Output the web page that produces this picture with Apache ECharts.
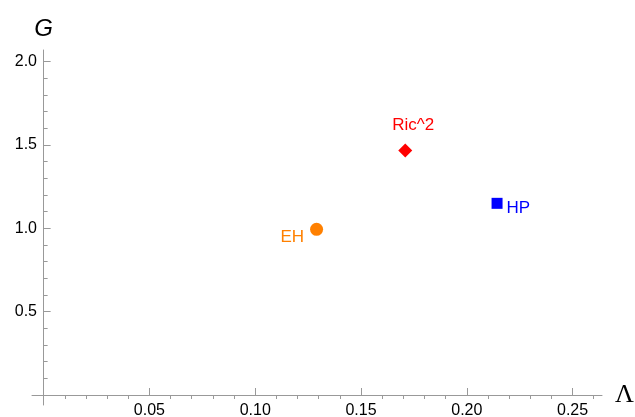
<!DOCTYPE html>
<html>
<head>
<meta charset="utf-8">
<script src="https://cdn.jsdelivr.net/npm/echarts@6/dist/echarts.min.js"></script>
<style>
html,body{margin:0;padding:0;background:#fff;}
#chart{width:635px;height:417px;}
</style>
</head>
<body>
<div id="chart"></div>
<script>
// Data
const seriesNames = ['EH', 'Ric^2', 'HP'];
const ehPoint = [0.129, 0.994];
const ricPoint = [0.1709, 1.467];
const hpPoint = [0.2143, 1.150];
const xMajorTicks = [0.05, 0.10, 0.15, 0.20, 0.25];
const xMinorTicks = [0.01,0.02,0.03,0.04,0.06,0.07,0.08,0.09,0.11,0.12,0.13,0.14,0.16,0.17,0.18,0.19,0.21,0.22,0.23,0.24,0.26];
const yMajorTicks = [0.5, 1.0, 1.5, 2.0];
const yMinorTicks = [0.1,0.2,0.3,0.4,0.6,0.7,0.8,0.9,1.1,1.2,1.3,1.4,1.6,1.7,1.8,1.9];

const axisColor = '#999';
const labelFont = {fontFamily: 'Liberation Sans, Arial, sans-serif', fontSize: 16, color: '#000'};
const X_MIN = -0.0055, X_MAX = 0.2639, Y_MIN = -0.06, Y_MAX = 2.07;

const chart = echarts.init(document.getElementById('chart'));
chart.setOption({
  animation: false,
  grid: {left: 32, right: 33, top: 50, bottom: 12, containLabel: false, outerBoundsMode: 'none'},
  xAxis: [
    {
      type: 'value', min: X_MIN, max: X_MAX,
      name: 'Λ', nameLocation: 'end', nameGap: 13,
      nameTextStyle: {fontFamily: 'Liberation Serif, Times New Roman, serif', fontSize: 26, color: '#000', verticalAlign: 'middle'},
      axisLine: {show: true, onZero: true, lineStyle: {color: axisColor, width: 1}},
      axisTick: {show: true, inside: true, length: 7, customValues: xMajorTicks, lineStyle: {color: axisColor}},
      axisLabel: Object.assign({show: true, margin: -2, customValues: xMajorTicks, formatter: v => v.toFixed(2)}, labelFont),
      splitLine: {show: false}
    },
    {
      type: 'value', min: X_MIN, max: X_MAX,
      axisLine: {show: false, onZero: true, onZeroAxisIndex: 0},
      axisTick: {show: true, inside: true, length: 4, customValues: xMinorTicks, lineStyle: {color: axisColor}},
      axisLabel: {show: false},
      splitLine: {show: false}
    }
  ],
  yAxis: [
    {
      type: 'value', min: Y_MIN, max: Y_MAX,
      name: 'G', nameLocation: 'end', nameGap: 9,
      nameTextStyle: {fontFamily: 'Liberation Sans, Arial, sans-serif', fontStyle: 'italic', fontSize: 24, color: '#000', align: 'center'},
      axisLine: {show: true, onZero: true, lineStyle: {color: axisColor, width: 1}},
      axisTick: {show: true, inside: true, length: 7, customValues: yMajorTicks, lineStyle: {color: axisColor}},
      axisLabel: Object.assign({show: true, margin: -5, customValues: yMajorTicks, formatter: v => v.toFixed(1)}, labelFont),
      splitLine: {show: false}
    },
    {
      type: 'value', min: Y_MIN, max: Y_MAX,
      position: 'left',
      axisLine: {show: false, onZero: true, onZeroAxisIndex: 0},
      axisTick: {show: true, inside: true, length: 4, customValues: yMinorTicks, lineStyle: {color: axisColor}},
      axisLabel: {show: false},
      splitLine: {show: false}
    }
  ],
  series: [
    {
      name: seriesNames[0], type: 'scatter', symbol: 'circle', symbolSize: 13,
      itemStyle: {color: '#FF8000', opacity: 1},
      data: [ehPoint],
      label: {show: true, formatter: seriesNames[0], position: 'left', distance: 6, offset: [0, 8],
        color: '#FF8000', fontSize: 17, fontFamily: 'Liberation Sans, Arial, sans-serif'}
    },
    {
      name: seriesNames[1], type: 'scatter', symbol: 'diamond', symbolSize: 14,
      itemStyle: {color: '#FF0000', opacity: 1},
      data: [ricPoint],
      label: {show: true, formatter: seriesNames[1], position: 'top', distance: 10, offset: [8, 0],
        color: '#FF0000', fontSize: 17, fontFamily: 'Liberation Sans, Arial, sans-serif'}
    },
    {
      name: seriesNames[2], type: 'scatter', symbol: 'rect', symbolSize: 11,
      itemStyle: {color: '#0000FF', opacity: 1},
      data: [hpPoint],
      label: {show: true, formatter: seriesNames[2], position: 'right', distance: 4, offset: [0, 5],
        color: '#0000FF', fontSize: 17, fontFamily: 'Liberation Sans, Arial, sans-serif'}
    }
  ]
});
</script>
</body>
</html>
